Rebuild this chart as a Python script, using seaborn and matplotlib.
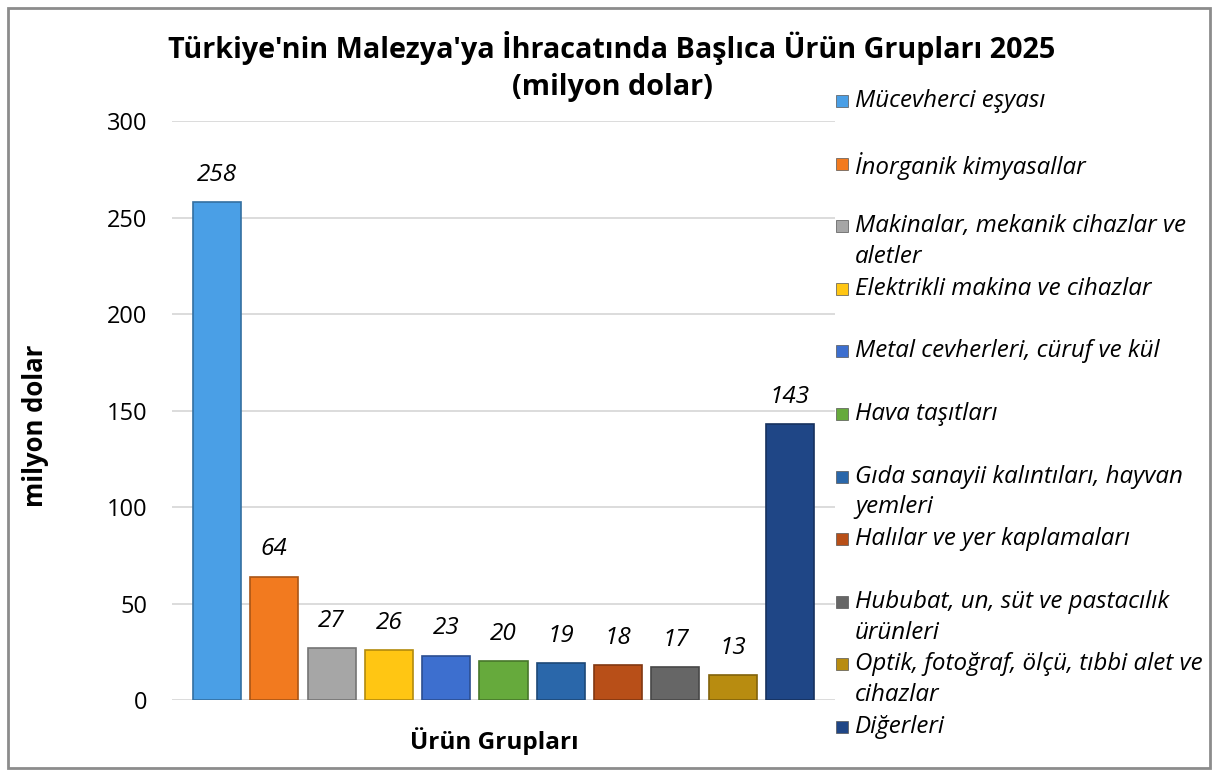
import numpy as np
import pandas as pd
import matplotlib
matplotlib.use('Agg')
import matplotlib.pyplot as plt
import seaborn as sns
from matplotlib.patches import Rectangle

# data
urunler = ['Mücevherci eşyası', 'İnorganik kimyasallar',
           'Makinalar, mekanik cihazlar ve\naletler', 'Elektrikli makina ve cihazlar',
           'Metal cevherleri, cüruf ve kül', 'Hava taşıtları',
           'Gıda sanayii kalıntıları, hayvan\nyemleri', 'Halılar ve yer kaplamaları',
           'Hububat, un, süt ve pastacılık\nürünleri', 'Optik, fotoğraf, ölçü, tıbbi alet ve\ncihazlar',
           'Diğerleri']
degerler = [258, 64, 27, 26, 23, 20, 19, 18, 17, 13, 143]
renkler = ['#4a9fe6', '#f27a1f', '#a6a6a6', '#ffc613', '#3d6fcf', '#66aa3c',
           '#2a67aa', '#b84f18', '#666666', '#b88c10', '#1f4686']

df = pd.DataFrame({'urun': urunler, 'deger': degerler})

sns.set_style('white')
plt.rcParams['font.family'] = ['Open Sans', 'DejaVu Sans']
plt.rcParams['text.color'] = 'black'
plt.rcParams['axes.labelcolor'] = 'black'
plt.rcParams['ytick.color'] = 'black'

fig = plt.figure(figsize=(12.19, 7.76), dpi=100)
ax = fig.add_axes([0.1411, 0.0979, 0.5439, 0.746])

sns.barplot(data=df, x='urun', y='deger', hue='urun', palette=renkler,
            width=0.84, legend=False, ax=ax, saturation=1)
for patch, c in zip(ax.patches, renkler):
    r, g, b = matplotlib.colors.to_rgb(c)
    patch.set_edgecolor((r * 0.7, g * 0.7, b * 0.7))
    patch.set_linewidth(1.2)

for cont in ax.containers:
    ax.bar_label(cont, fmt='%d', padding=11, fontsize=17.5, fontstyle='italic')

ax.set_ylim(0, 300)
ax.set_xlim(-0.785, 10.785)
ax.set_yticks([0, 50, 100, 150, 200, 250, 300])
ax.yaxis.grid(True, color='#d9d9d9', linewidth=1.3)
ax.set_axisbelow(True)
for s in ax.spines.values():
    s.set_visible(False)
ax.set_xticks([])
ax.tick_params(axis='y', length=0, pad=18, labelsize=17)
ax.set_xlabel('Ürün Grupları', fontsize=17.5, fontweight='bold')
ax.set_ylabel('milyon dolar', fontsize=18.5, fontweight='bold')
ax.xaxis.set_label_coords(0.486, -0.047)
ax.yaxis.set_label_coords(-0.186, 0.473)

# title as two texts so line 2 stays clear of the legend
fig.text(0.502, 1 - 48 / 776, "Türkiye'nin Malezya'ya İhracatında Başlıca Ürün Grupları 2025",
         ha='center', va='center', fontsize=20.7, fontweight='bold')
fig.text(0.502, 1 - 87 / 776, "(milyon dolar)",
         ha='center', va='center', fontsize=20.7, fontweight='bold')

# legend drawn by hand so wrapped labels keep the marker on the first line
W, H = 1219, 776
for i, (lab, c) in enumerate(zip(urunler, renkler)):
    yc = 101 + 62.6 * i
    fig.patches.append(Rectangle((836 / W, 1 - (yc + 6) / H), 12 / W, 12 / H,
                                 transform=fig.transFigure, facecolor=c,
                                 edgecolor='#555555', linewidth=0.5))
    fig.text(855 / W, 1 - (yc - 12) / H, lab, ha='left', va='top', fontsize=17.4,
             fontstyle='italic', linespacing=1.38)

fig.patches.append(Rectangle((8 / W, 8 / H), 1202 / W, 760 / H, transform=fig.transFigure,
                             fill=False, edgecolor='#8c8c8c', linewidth=2))

fig.savefig('out.png', dpi=100)
